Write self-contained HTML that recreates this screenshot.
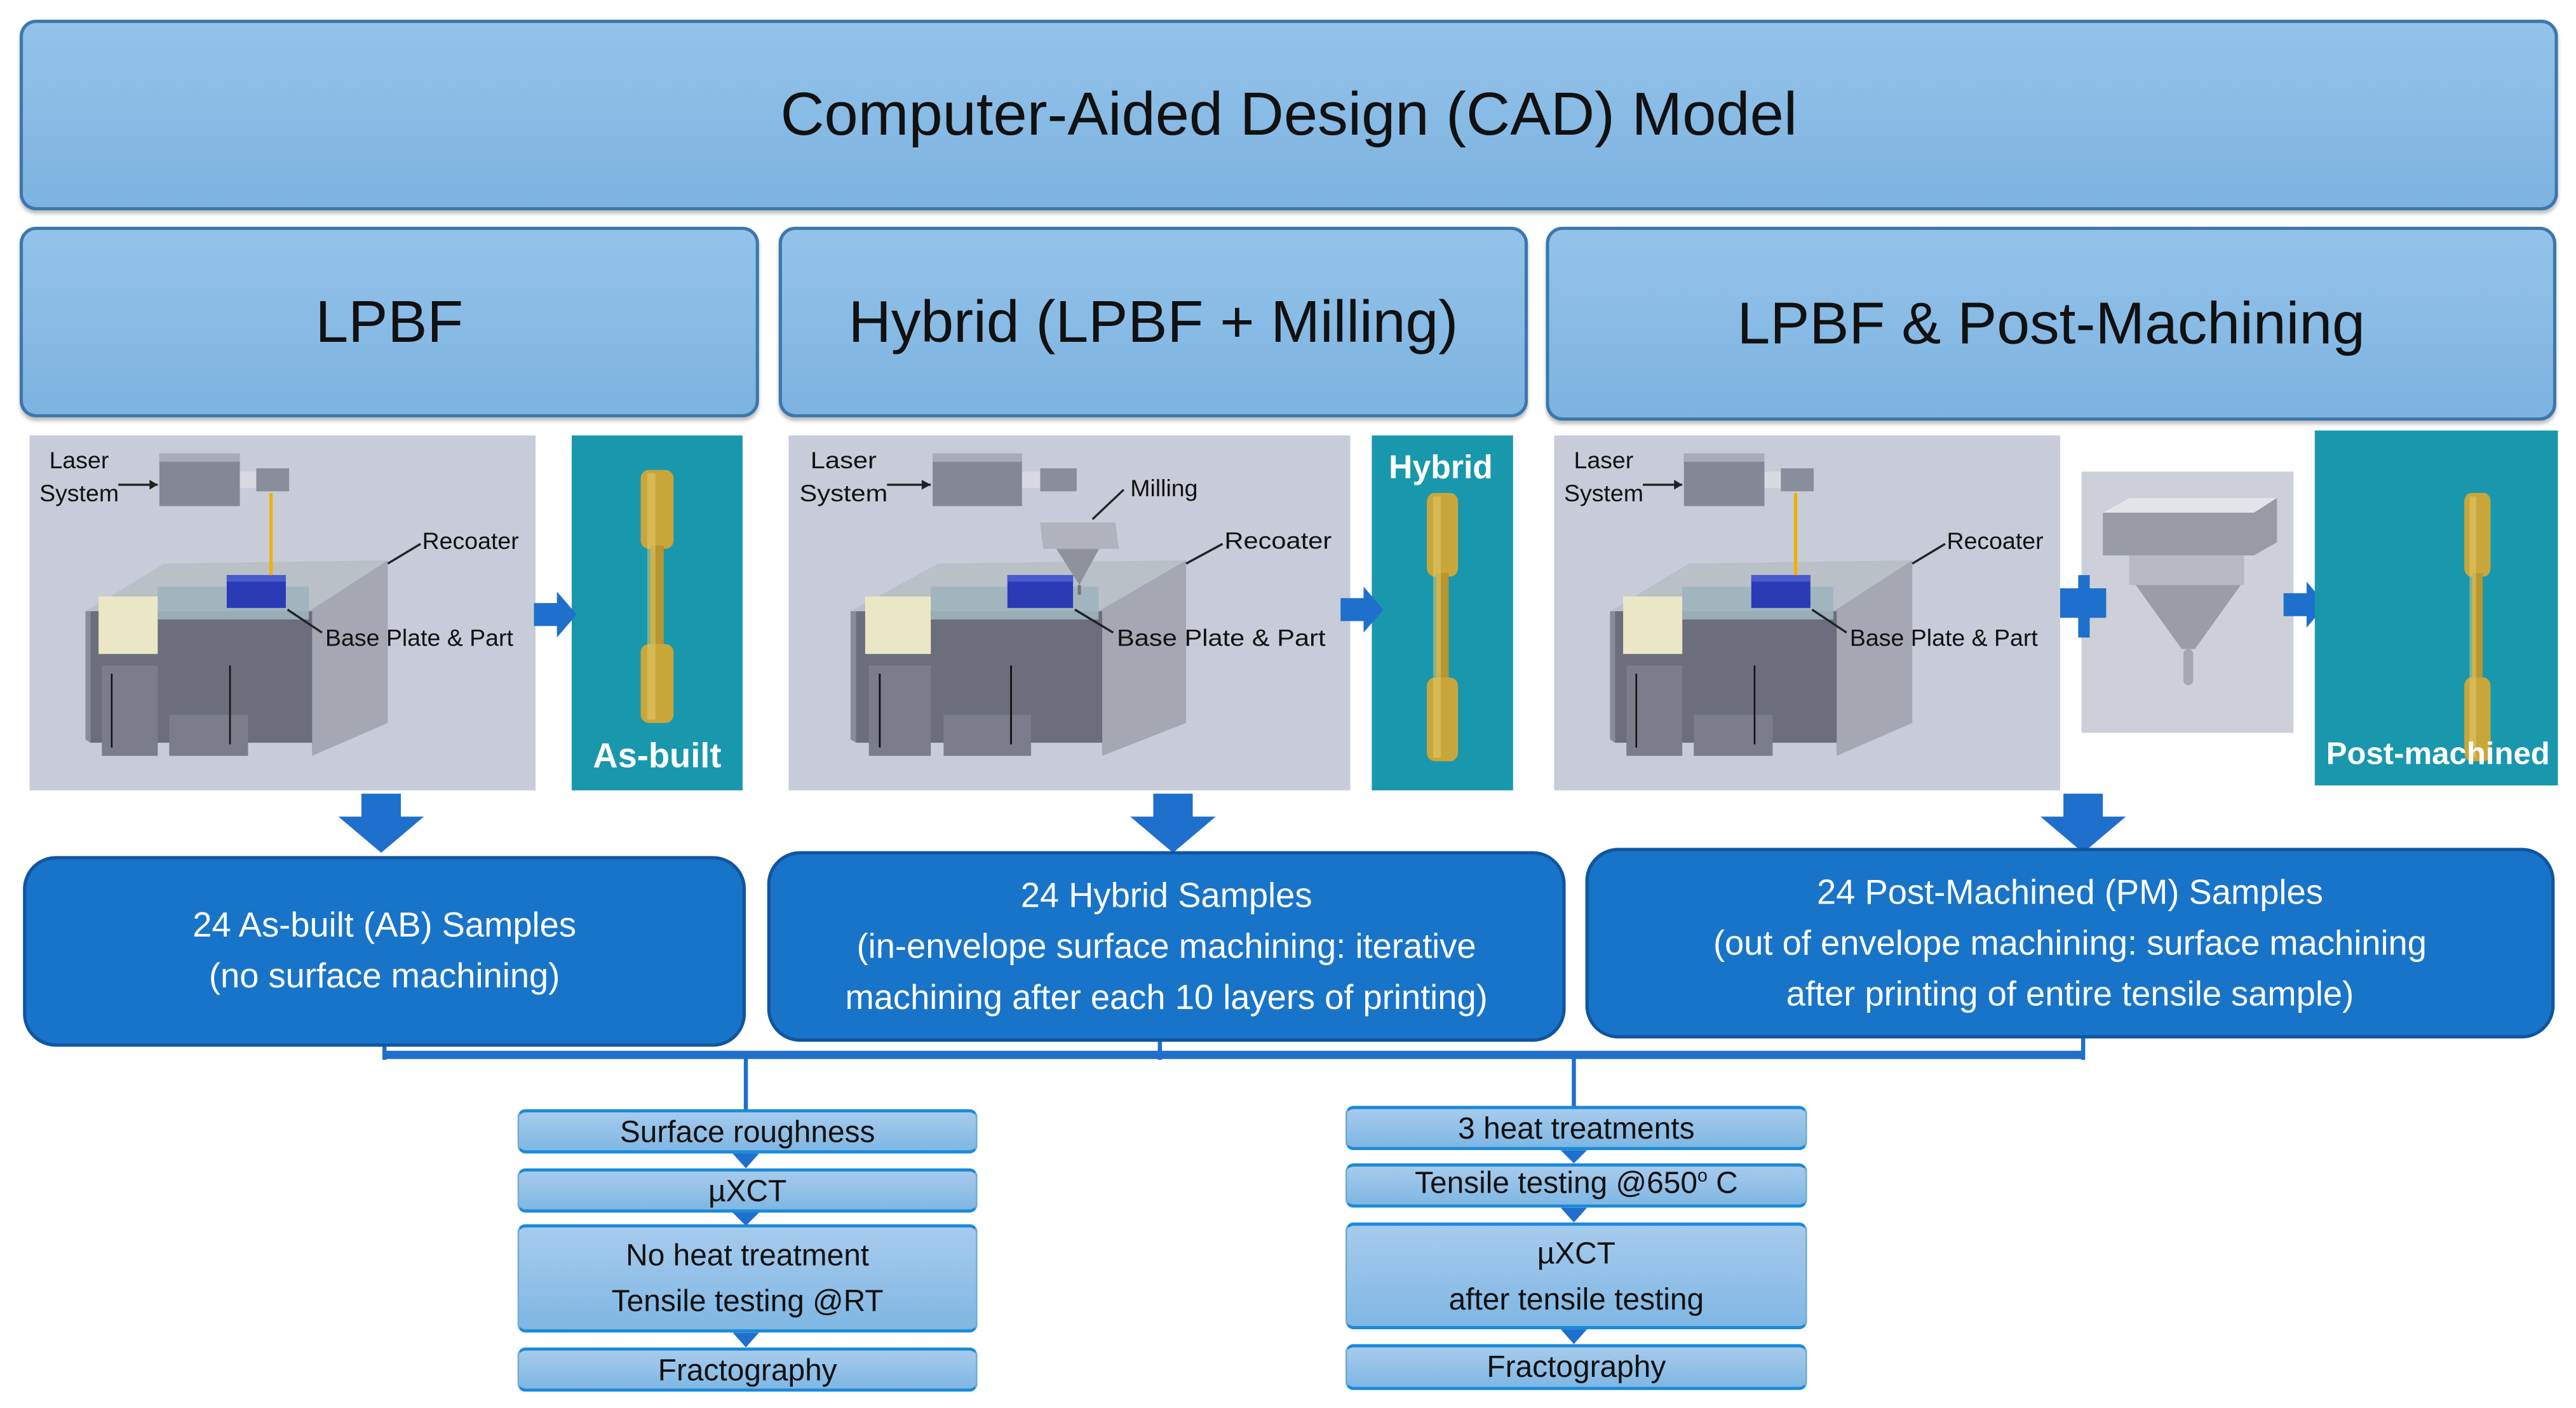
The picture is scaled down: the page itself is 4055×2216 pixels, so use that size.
<!DOCTYPE html>
<html><head><meta charset="utf-8"><style>
html,body{margin:0;padding:0;background:#fff;}
body{width:4055px;height:2215px;overflow:hidden;position:relative;}
#s{position:absolute;left:0;top:0;width:1568px;height:857px;transform:scale(2.5861);transform-origin:0 0;font-family:"Liberation Sans",sans-serif;}
.a{position:absolute;box-sizing:border-box;}
.hdr{background:linear-gradient(#93c3ea,#7db3e0);border:2px solid #3a78ad;border-radius:10px;display:flex;align-items:center;justify-content:center;color:#111;box-shadow:0 2px 2px rgba(0,0,0,.25);}
.blue{background:#1874c9;border:2px solid #0f55a0;border-radius:20px;color:#fff;display:flex;align-items:center;justify-content:center;text-align:center;font-size:21px;line-height:31px;}
.sm{background:linear-gradient(#a6cbed,#7fb7e3);border-top:2px solid #1a8ad8;border-bottom:2px solid #1a8ad8;border-left:1px solid #6aa8d8;border-right:1px solid #6aa8d8;border-radius:5px;display:flex;align-items:center;justify-content:center;text-align:center;font-size:18.5px;line-height:28px;color:#111;}
.sup{font-size:11px;position:relative;top:-7px;}
svg{position:absolute;left:0;top:0;}
</style></head><body><div id="s">
<div class="a hdr" style="left:12px;top:12px;width:1545px;height:116px;font-size:37px;">Computer-Aided Design (CAD) Model</div>
<div class="a hdr" style="left:12px;top:138px;width:450px;height:116px;font-size:36px;">LPBF</div>
<div class="a hdr" style="left:474px;top:138px;width:456px;height:116px;font-size:36px;">Hybrid (LPBF + Milling)</div>
<div class="a hdr" style="left:941px;top:138px;width:615px;height:118px;font-size:36px;">LPBF &amp; Post-Machining</div>

<svg width="1568" height="857" viewBox="0 0 1568 857">
<defs>
<g id="mach">
<rect x="0" y="0" width="308" height="216" fill="#c8ccd8"/>
<rect x="79" y="11" width="49" height="32" fill="#848795"/>
<rect x="79" y="11" width="49" height="5" fill="#a9acb8"/>
<rect x="128" y="22" width="10" height="10" fill="#d8dae0"/>
<rect x="138" y="20" width="20" height="14" fill="#8a8d9a"/>
<line x1="54" y1="30" x2="78" y2="30" stroke="#222" stroke-width="1.3"/>
<polygon points="78,30 73,27 73,33" fill="#222"/>
<polygon points="34,107 82,78 218,76 170,107" fill="#b9c0c6"/>
<polygon points="170,107 218,76 218,175 172,195" fill="#a5a8b3"/>
<rect x="37" y="107" width="135" height="80" fill="#6c6f7b"/>
<polygon points="37,107 34,107 34,185 37,187" fill="#8a8d98"/>
<rect x="42" y="98" width="36" height="35" fill="#e9e7c6"/>
<polygon points="78,92 170,92 170,112 78,112" fill="#9fb4bc" opacity="0.9"/>
<rect x="44" y="140" width="34" height="55" fill="#7b7e8a"/>
<rect x="85" y="170" width="48" height="25" fill="#7b7e8a"/>
<rect x="120" y="85" width="36" height="20" fill="#2a3bb5"/>
<rect x="120" y="85" width="36" height="4" fill="#4a5ad0"/>
<line x1="50" y1="145" x2="50" y2="190" stroke="#111" stroke-width="1"/>
<line x1="122" y1="140" x2="122" y2="188" stroke="#111" stroke-width="1"/>
<line x1="238" y1="66" x2="218" y2="78" stroke="#222" stroke-width="1.3"/>
<line x1="178" y1="120" x2="157" y2="106" stroke="#222" stroke-width="1.3"/>
<text x="12" y="20" font-size="14.5" font-family="Liberation Sans, sans-serif" fill="#111">Laser</text>
<text x="6" y="40" font-size="14.5" font-family="Liberation Sans, sans-serif" fill="#111">System</text>
<text x="239" y="69" font-size="14.5" font-family="Liberation Sans, sans-serif" fill="#111">Recoater</text>
<text x="180" y="128" font-size="14.5" font-family="Liberation Sans, sans-serif" fill="#111">Base Plate &amp; Part</text>
</g>
<g id="bone">
<rect x="-10" y="0" width="20" height="48" rx="5" fill="#c9a63a"/>
<rect x="-4" y="46" width="8" height="62" fill="#b8962f"/>
<rect x="-10" y="106" width="20" height="48" rx="5" fill="#c9a63a"/>
<rect x="-6" y="2" width="5" height="150" fill="#e6cd72" opacity=".5"/>
</g>
<polygon id="rarr" points="0,-7 14,-7 14,-14 26,0 14,14 14,7 0,7" fill="#1f6fcc"/>
<polygon id="darr" points="-12,0 12,0 12,14 26,14 0,36 -26,14 -12,14" fill="#1f6fcc"/>
</defs>
<use href="#mach" x="18" y="265"/>
<rect x="348" y="265" width="104" height="216" fill="#1997ad"/>
<use href="#bone" x="400" y="286"/>
<text x="400" y="467" font-size="21" font-weight="bold" text-anchor="middle" fill="#fff" font-family="Liberation Sans, sans-serif">As-built</text>
<line x1="165" y1="300" x2="165" y2="350" stroke="#f2b000" stroke-width="2"/>
<use href="#rarr" x="325" y="374"/>
<g transform="translate(480,265) scale(1.11,1)"><use href="#mach" x="0" y="0"/></g>
<rect x="835" y="265" width="86" height="216" fill="#1997ad"/>
<g transform="translate(878,300) scale(.95,1.06)"><use href="#bone" x="0" y="0"/></g>
<text x="877" y="291" font-size="20" font-weight="bold" text-anchor="middle" fill="#fff" font-family="Liberation Sans, sans-serif">Hybrid</text>
<polygon points="633,318 679,318 681,334 635,334" fill="#b0b3bc"/>
<polygon points="643,334 669,334 657,356" fill="#8f929d"/>
<line x1="657" y1="356" x2="657" y2="362" stroke="#777" stroke-width="2"/>
<line x1="665" y1="316" x2="684" y2="298" stroke="#222" stroke-width="1.3"/>
<text x="688" y="302" font-size="14.5" font-family="Liberation Sans, sans-serif" fill="#111">Milling</text>
<use href="#rarr" x="816" y="371"/>
<use href="#mach" x="946" y="265"/>
<line x1="1093" y1="300" x2="1093" y2="350" stroke="#f2b000" stroke-width="2"/>
<rect x="1267" y="287" width="129" height="159" fill="#cdd0d8"/>
<polygon points="1280,312 1296,303 1386,303 1386,330 1372,338 1280,338" fill="#989ba6"/>
<polygon points="1280,312 1296,303 1386,303 1372,312" fill="#e2e4ea"/>
<rect x="1296" y="338" width="70" height="18" fill="#b6b9c2"/>
<polygon points="1300,356 1364,356 1336,395 1328,395" fill="#9a9da8"/>
<rect x="1329" y="395" width="6" height="22" rx="3" fill="#a5a8b2"/>
<polygon points="1254,368 1254,358 1265,358 1265,350 1272,350 1272,358 1282,358 1282,376 1272,376 1272,388 1265,388 1265,376 1254,376" fill="#1f6fcc"/>
<use href="#rarr" x="1390" y="368"/>
<rect x="1409" y="262" width="148" height="216" fill="#1997ad"/>
<g transform="translate(1508,300) scale(.8,1.06)"><use href="#bone" x="0" y="0"/></g>
<text x="1484" y="465" font-size="19" font-weight="bold" text-anchor="middle" fill="#fff" font-family="Liberation Sans, sans-serif">Post-machined</text>
<use href="#darr" x="232" y="483"/>
<use href="#darr" x="714" y="483"/>
<use href="#darr" x="1268" y="483"/>
<g stroke="#1f6fcc" fill="none">
<line x1="234" y1="634" x2="234" y2="645" stroke-width="2.5"/>
<line x1="706" y1="632" x2="706" y2="645" stroke-width="2.5"/>
<line x1="1268" y1="630" x2="1268" y2="645" stroke-width="2.5"/>
<line x1="233" y1="642" x2="1269" y2="642" stroke-width="5"/>
<line x1="454" y1="644" x2="454" y2="676" stroke-width="2.5"/>
<line x1="958" y1="644" x2="958" y2="674" stroke-width="2.5"/>
</g>
<g fill="#1f6fcc">
<polygon points="446,702 462,702 454,711"/>
<polygon points="446,738 462,738 454,746"/>
<polygon points="446,811 462,811 454,820"/>
<polygon points="950,700 966,700 958,708"/>
<polygon points="950,735 966,735 958,744"/>
<polygon points="950,809 966,809 958,818"/>
</g>
</svg>

<div class="a blue" style="left:14px;top:521px;width:440px;height:116px;">24 As-built (AB) Samples<br>(no surface machining)</div>
<div class="a blue" style="left:467px;top:518px;width:486px;height:116px;">24 Hybrid Samples<br>(in-envelope surface machining: iterative<br>machining after each 10 layers of printing)</div>
<div class="a blue" style="left:965px;top:516px;width:590px;height:116px;">24 Post-Machined (PM) Samples<br>(out of envelope machining: surface machining<br>after printing of entire tensile sample)</div>

<div class="a sm" style="left:315px;top:675px;width:280px;height:27px;">Surface roughness</div>
<div class="a sm" style="left:315px;top:711px;width:280px;height:27px;">µXCT</div>
<div class="a sm" style="left:315px;top:745px;width:280px;height:66px;">No heat treatment<br>Tensile testing @RT</div>
<div class="a sm" style="left:315px;top:820px;width:280px;height:27px;">Fractography</div>
<div class="a sm" style="left:819px;top:673px;width:281px;height:27px;">3 heat treatments</div>
<div class="a sm" style="left:819px;top:708px;width:281px;height:27px;"><span>Tensile testing @650<span class="sup">o</span> C</span></div>
<div class="a sm" style="left:819px;top:744px;width:281px;height:65px;">µXCT<br>after tensile testing</div>
<div class="a sm" style="left:819px;top:818px;width:281px;height:28px;">Fractography</div>
</div></body></html>
